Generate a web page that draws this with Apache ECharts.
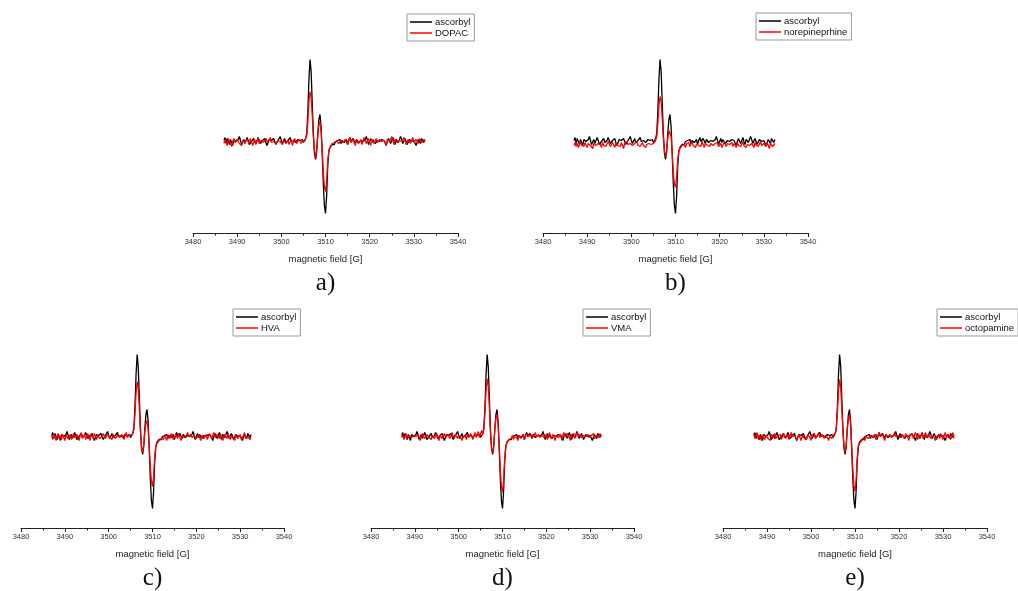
<!DOCTYPE html>
<html>
<head>
<meta charset="utf-8">
<script src="https://cdn.jsdelivr.net/npm/echarts@6/dist/echarts.min.js"></script>
<style>
  html, body { margin: 0; padding: 0; background: #fff; }
  #chart { width: 1018px; height: 591px; }
</style>
</head>
<body>
<div id="chart"></div>
<script>
// field sweep: first point and step (G), one value per step
var FIELD_START = 3487;
var FIELD_STEP = 0.25;

// x axis ticks
var fieldTicks = [3480, 3490, 3500, 3510, 3520, 3530, 3540];

// reference spectrum (same in every panel)
var ascorbyl = [
  1, 4, -2, 3, 0, -3, 2, -1, -4, 2,
  3, 0, -2, 2, 5, 1, -3, -1, 2, -2,
  0, 4, 1, -3, -4, 0, 2, 3, -1, -2,
  1, 4, 2, -2, -3, 1, 0, 3, -1, -4,
  -2, 2, 4, 1, -1, 3, 0, -3, -2, 1,
  2, 5, 1, -2, 0, 3, -1, -3, 1, 2,
  4, 0, -2, 1, 3, -1, -2, 2, 4, 1,
  0, 2, -1, 1, 3, 8, 30, 62, 82, 70,
  38, 8, -12, -18, -10, 8, 22, 27, 15, -12,
  -42, -64, -72, -55, -25, -10, -6, -4, -3, -1,
  -3, 0, -2, 1, -1, 2, -2, 1, 3, -1,
  0, 2, -3, 1, 4, 0, -2, 3, 1, -2,
  2, 4, -1, -3, 1, 3, 0, -2, 2, 5,
  1, -3, 0, 3, -1, 2, 4, -2, -3, 1,
  3, 0, -2, 2, 4, 1, -1, -4, 0, 3,
  2, -2, 1, 4, 0, -3, 2, 3, -1, 1,
  5, 2, -2, 0, 3, 1, -3, -1, 2, 4,
  0, -2, 1, 3, -4, -1, 2, 0, -2, 3,
  1, -1, 2
];

var dopac = [
  -2, 2, 0, -4, 3, 1, -2, -5, 0, 3,
  -1, -3, 2, 4, -2, 0, -4, 1, 3, -1,
  -3, 2, 0, -2, 3, 1, -4, -1, 2, -3,
  0, 3, -2, -4, 1, 2, -1, -3, 3, 0,
  -2, 1, 4, -1, -3, 0, 2, -2, -4, 1,
  3, 0, -1, -3, 2, 4, -2, 0, 1, -3,
  -1, 2, -4, 0, 3, 1, -2, -3, 2, 0,
  -2, 1, 3, 0, 2, 6, 20, 40, 50, 44,
  26, 5, -9, -16, -8, 6, 17, 20, 10, -8,
  -30, -45, -50, -40, -20, -9, -6, -5, -2, -4,
  -1, -3, 0, 2, -2, -4, 1, 3, -1, -2,
  2, 0, -3, 1, 4, -1, -2, 2, 0, -4,
  1, 3, -2, 0, 2, -3, -1, 4, 1, -2,
  0, 3, -1, -4, 2, 1, -2, 0, 3, -1,
  -3, 2, 4, 0, -2, 1, -1, -4, 2, 3,
  0, -2, 5, 1, -3, 2, 4, -1, -3, 1,
  3, 0, -2, 4, 1, -3, -1, 2, 0, -2,
  1, 4, -1, -3, 2, 0, -2, 3, 1, -1,
  -2, 2, 0
];

var norepinephrine = [
  -4, -1, -5, -2, -6, -3, 0, -4, -2, -5,
  -1, -3, -6, -2, 0, -4, -3, -7, -2, -1,
  -4, -5, -2, 0, -3, -6, -1, -4, -2, -5,
  -3, 0, -2, -5, -4, -1, -3, -6, -2, 0,
  -4, -2, -5, -1, -3, -7, -2, -4, 0, -3,
  -5, -2, -1, -4, -6, -2, -3, 0, -4, -2,
  -5, -3, -1, -4, -2, -6, -3, -1, -2, -4,
  -3, -1, -2, -1, 1, 5, 18, 36, 45, 40,
  23, 3, -9, -15, -9, 3, 11, 13, 5, -12,
  -30, -42, -46, -36, -18, -10, -7, -6, -4, -5,
  -3, -6, -2, -4, -1, -5, -3, 0, -4, -2,
  -6, -3, -1, -4, -2, -5, 0, -3, -6, -2,
  -1, -4, -3, -5, -2, 0, -4, -6, -2, -3,
  -1, -5, -3, -2, -6, -4, -1, -3, -5, -2,
  0, -3, -4, -1, -5, -2, -3, -6, -1, -4,
  -2, -5, -3, 0, -4, -2, -6, -3, -1, -4,
  -5, -2, -3, -6, -1, -4, -2, -5, -3, 0,
  -4, -6, -2, -3, -5, -1, -4, -7, -2, -3,
  -5, -6, -2
];

var hva = [
  1, -3, 2, -1, -4, 0, 3, -2, 1, -3,
  2, 0, -4, 1, 3, -2, -1, 2, -3, 0,
  3, -1, -3, 2, 0, -4, 1, 4, -2, -1,
  2, -3, 0, 3, -1, -4, 2, 1, -2, 3,
  0, -3, 1, 2, -2, -4, 0, 3, 1, -2,
  -3, 2, 4, -1, 0, -3, 2, 1, -2, -4,
  1, 3, -1, -2, 2, 0, -3, 1, 4, -1,
  -2, 2, 0, 1, 3, 7, 22, 44, 55, 48,
  28, 5, -10, -16, -9, 5, 13, 16, 8, -10,
  -30, -45, -50, -40, -20, -10, -7, -5, -4, -3,
  -2, 0, -3, 1, -1, -4, 2, 0, -2, 3,
  1, -3, -1, 2, 0, -2, 3, 1, -4, 0,
  2, -1, -3, 1, 4, 0, -2, 2, -1, -3,
  1, 3, -2, 0, 2, -1, -4, 1, 3, -2,
  0, 2, -3, -1, 3, 1, -2, 0, 4, -1,
  -3, 2, 0, -2, 3, 1, -4, -1, 2, 0,
  -2, 3, 1, -3, 0, 2, -1, -4, 1, 3,
  -2, 0, 2, -3, -1, 1, 4, -2, -4, 0,
  2, -3, -1
];

var vma = [
  -1, 2, -3, 0, 3, -2, -4, 1, 2, -1,
  -3, 1, 3, 0, -2, 2, -1, -4, 0, 3,
  1, -2, -3, 2, 4, -1, 0, -3, 1, 2,
  -2, 0, 3, -1, -4, 1, 2, -2, 0, 3,
  -1, -3, 2, 1, -2, 0, 4, -1, -3, 2,
  0, -2, 1, 3, -1, -4, 0, 2, 1, -3,
  2, -1, -2, 3, 0, -3, 1, 4, -1, 2,
  5, -1, 3, 6, 2, 8, 24, 47, 58, 50,
  30, 4, -11, -17, -9, 7, 18, 22, 12, -10,
  -34, -50, -56, -44, -22, -10, -6, -4, -3, -5,
  -2, 1, -3, 0, 2, -1, -4, 1, 3, -2,
  0, 2, -3, 1, -1, 3, 0, -2, 2, -1,
  -3, 1, 4, 0, -2, 2, -1, -3, 1, 3,
  -1, 0, 2, -3, 1, 4, -2, 0, 2, -1,
  -4, 1, 3, -1, 0, 2, -3, 1, 4, 0,
  -2, 3, 1, -1, -4, 2, 0, 3, -2, 1,
  4, 0, -2, 2, -1, -3, 1, 3, 0, -2,
  2, -1, -3, 1, 0, 3, -2, -4, 1, 2,
  -1, 3, 0
];

var octopamine = [
  3, -2, 0, 4, -3, 1, -1, -4, 2, 0,
  -3, 1, 3, -2, 0, -4, 2, 1, -1, 3,
  -2, -4, 1, 0, 2, -3, -1, 3, 1, -2,
  0, 2, -3, -1, 4, 0, -2, 1, 3, -3,
  -1, 2, 0, -4, 1, 3, -2, 0, -3, 2,
  1, -1, -4, 2, 0, 3, -2, -3, 1, 4,
  -1, -3, 2, 0, -2, 1, 3, -1, -4, 0,
  2, -2, 1, 0, 3, 8, 24, 46, 57, 49,
  29, 5, -10, -16, -8, 8, 18, 22, 12, -10,
  -33, -49, -55, -43, -22, -10, -7, -5, -4, -3,
  -1, -4, 0, 2, -2, -3, 1, 3, -1, 0,
  2, -3, -1, 1, 4, 0, -2, 2, -1, -4,
  1, 3, 0, -2, 2, -1, -3, 1, 4, 0,
  -2, 1, 3, -1, -3, 2, 0, -2, 3, 1,
  -1, -4, 2, 0, 3, -2, 1, 4, 0, -3,
  2, -1, 1, 3, -2, 0, 4, -1, -3, 2,
  0, -2, 1, 3, -1, -4, 0, 2, 1, -2,
  3, 0, -3, 1, 4, -1, -2, 2, 0, -3,
  1, 4, -2
];

// one panel per compound
var panelNames = ['DOPAC', 'norepineprhine', 'HVA', 'VMA', 'octopamine'];
var panelData = [dopac, norepinephrine, hva, vma, octopamine];
var panelTags = ['a)', 'b)', 'c)', 'd)', 'e)'];

// panel boxes (px): plot left, axis line y, plot width, legend corner
var boxes = [
  { left: 193, axisY: 233, width: 265, legX: 407, legY: 14 },
  { left: 543, axisY: 233, width: 265, legX: 756, legY: 13 },
  { left: 21,  axisY: 528, width: 263, legX: 233, legY: 309 },
  { left: 371, axisY: 528, width: 263, legX: 583, legY: 309 },
  { left: 723, axisY: 528, width: 264, legX: 937, legY: 309 }
];
var tagY = [283, 283, 578, 578, 578];

function toPoints(arr) {
  return arr.map(function (v, i) { return [FIELD_START + i * FIELD_STEP, v]; });
}

var grids = [], xAxes = [], yAxes = [], series = [], legends = [], graphics = [];

boxes.forEach(function (b, k) {
  grids.push({ left: b.left, top: b.axisY - 200, width: b.width, height: 200 });
  xAxes.push({
    gridIndex: k,
    type: 'value',
    min: fieldTicks[0],
    max: fieldTicks[fieldTicks.length - 1],
    interval: 10,
    name: 'magnetic field [G]',
    nameLocation: 'middle',
    nameGap: 21,
    nameTextStyle: { fontFamily: 'Liberation Sans', fontSize: 9.5, color: '#222' },
    axisLine: { onZero: false, lineStyle: { color: '#222', width: 1 } },
    axisTick: { length: 4, lineStyle: { color: '#222' } },
    minorTick: { show: true, splitNumber: 2, length: 2.5, lineStyle: { color: '#222' } },
    axisLabel: {
      fontFamily: 'Liberation Sans', fontSize: 7.5, color: '#333', margin: 5,
      formatter: function (v) { return String(v); }
    },
    splitLine: { show: false }
  });
  yAxes.push({ gridIndex: k, type: 'value', show: false, min: -91.5, max: 108.5 });

  series.push({
    name: 'ascorbyl', type: 'line', xAxisIndex: k, yAxisIndex: k,
    data: toPoints(ascorbyl), symbol: 'none', color: '#000',
    lineStyle: { width: 1.3 }, animation: false
  });
  series.push({
    name: panelNames[k], type: 'line', xAxisIndex: k, yAxisIndex: k,
    data: toPoints(panelData[k]), symbol: 'none', color: '#ff0000',
    lineStyle: { width: 1.3 }, animation: false
  });

  legends.push({
    data: ['ascorbyl', panelNames[k]],
    orient: 'vertical',
    left: b.legX, top: b.legY,
    icon: 'rect', itemWidth: 22, itemHeight: 1.5, itemGap: 1,
    padding: [3, 4, 3, 3],
    borderColor: '#999', borderWidth: 1,
    selectedMode: false,
    textStyle: { fontFamily: 'Liberation Sans', fontSize: 9.5, color: '#111', lineHeight: 10, padding: [0, 0, 0, -2] }
  });

  graphics.push({
    type: 'text',
    x: b.left + b.width / 2,
    y: tagY[k],
    style: {
      text: panelTags[k],
      font: '25px "Liberation Serif"',
      fill: '#111',
      align: 'center',
      verticalAlign: 'middle'
    }
  });
});

var chart = echarts.init(document.getElementById('chart'));
chart.setOption({
  backgroundColor: '#fff',
  animation: false,
  grid: grids,
  xAxis: xAxes,
  yAxis: yAxes,
  legend: legends,
  series: series,
  graphic: graphics
});
</script>
</body>
</html>
